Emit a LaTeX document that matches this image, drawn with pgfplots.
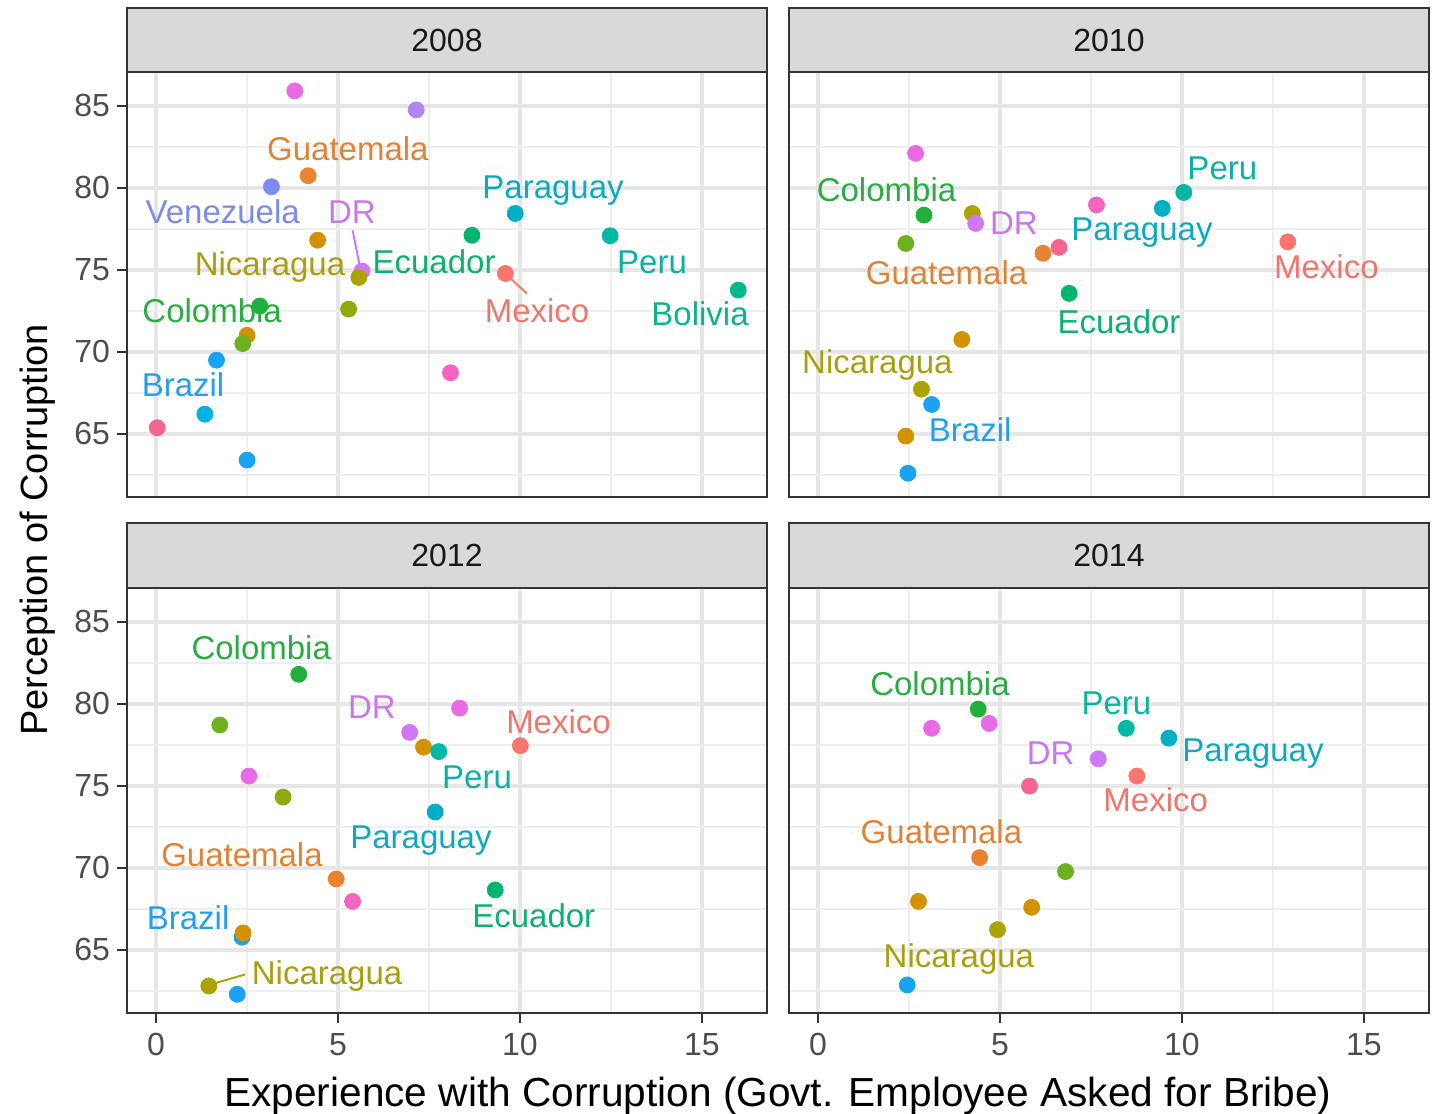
\documentclass[border=0pt]{standalone}
\usepackage{fontspec}
\setmainfont{Liberation Sans}
\usepackage{pgfplots}
\usepackage{pgfplotstable}
\pgfplotsset{compat=1.18}

\definecolor{mex}{HTML}{F8766D}
\definecolor{gua}{HTML}{EA8331}
\definecolor{gold}{HTML}{D39200}
\definecolor{nic}{HTML}{ABA300}
\definecolor{oliv}{HTML}{8EAB0E}
\definecolor{lime}{HTML}{6DB11F}
\definecolor{col}{HTML}{22B03C}
\definecolor{ecu}{HTML}{00B56E}
\definecolor{bol}{HTML}{00BA8C}
\definecolor{peru}{HTML}{00B8A5}
\definecolor{par}{HTML}{00AFC5}
\definecolor{cyanb}{HTML}{00B2E2}
\definecolor{bra}{HTML}{1AA3F5}
\definecolor{ven}{HTML}{7C8CF0}
\definecolor{lav}{HTML}{AE87F5}
\definecolor{dr}{HTML}{CF78F5}
\definecolor{mag}{HTML}{EA6AE6}
\definecolor{rose}{HTML}{F564BE}
\definecolor{pink}{HTML}{F5668F}
\definecolor{frame}{HTML}{333333}
\definecolor{tickcol}{HTML}{4D4D4D}
\definecolor{gridmaj}{HTML}{E6E6E6}
\definecolor{gridmin}{HTML}{EEEEEE}
\definecolor{stripfill}{HTML}{D9D9D9}

% year panels: x = bribe experience, y = perception, c = colour class
\pgfplotstableread{
x y c
3.81 85.90 mag
7.15 84.74 lav
4.18 80.73 gua
3.17 80.06 ven
4.44 76.80 gold
5.66 74.92 dr
5.57 74.53 nic
2.85 72.79 col
5.29 72.60 oliv
2.50 71.00 gold
2.38 70.50 lime
1.66 69.49 bra
1.34 66.20 cyanb
0.03 65.37 pink
2.50 63.40 bra
8.09 68.72 rose
9.87 78.43 par
8.68 77.10 ecu
12.48 77.07 peru
9.60 74.77 mex
16.00 73.76 bol
}\tA
\pgfplotstableread{
x y c
2.68 82.09 mag
2.91 78.33 col
4.24 78.43 nic
4.33 77.82 dr
2.41 76.60 lime
6.18 76.00 gua
6.62 76.36 pink
7.65 78.95 rose
6.90 73.56 ecu
3.95 70.75 gold
2.84 67.72 nic
3.12 66.79 bra
2.41 64.86 gold
2.47 62.60 bra
9.46 78.74 par
10.05 79.71 peru
12.91 76.70 mex
}\tB
\pgfplotstableread{
x y c
3.92 81.79 col
1.75 78.70 lime
6.97 78.25 dr
7.35 77.35 gold
7.77 77.08 peru
2.55 75.59 mag
3.49 74.31 oliv
7.67 73.40 par
4.95 69.32 gua
5.40 67.95 rose
2.36 65.77 bra
2.39 66.03 gold
1.45 62.80 nic
2.23 62.29 bra
8.34 79.73 mag
10.01 77.44 mex
9.32 68.65 ecu
}\tC
\pgfplotstableread{
x y c
4.40 79.67 col
3.12 78.50 mag
4.70 78.80 mag
7.70 76.64 dr
5.81 74.98 pink
4.44 70.62 gua
6.80 69.77 lime
2.76 67.95 gold
5.87 67.59 gold
4.93 66.23 nic
2.45 62.86 bra
8.47 78.50 peru
9.64 77.90 par
8.76 75.59 mex
}\tD

\pgfplotsset{
  panel/.style={
    scale only axis, width=320pt, height=212.5pt,
    xmin=-0.8, xmax=16.79, ymin=61.15, ymax=87.05,
    xtick={0,5,10,15}, ytick={65,70,75,80,85},
    minor xtick={2.5,7.5,12.5}, minor ytick={62.5,67.5,72.5,77.5,82.5},
    grid=both,
    major grid style={line width=2pt, color=gridmaj},
    minor grid style={line width=1pt, color=gridmin},
    axis line style={line width=1.1pt, color=frame},
    tick align=outside, major tick length=5pt, minor tick length=0pt,
    tick style={line width=1.1pt, color=frame},
    xtick pos=left, ytick pos=left,
    ticklabel style={font=\fontsize{16}{16}\selectfont, text=tickcol},
    xticklabel style={yshift=-1.5pt},
    /pgf/number format/assume math mode=true,
  },
  pts/.style={
    scatter, only marks, mark=*, mark size=4pt,
    scatter src=explicit symbolic,
    scatter/classes={
      mex={fill=mex,draw=mex}, gua={fill=gua,draw=gua}, gold={fill=gold,draw=gold},
      nic={fill=nic,draw=nic}, oliv={fill=oliv,draw=oliv}, lime={fill=lime,draw=lime},
      col={fill=col,draw=col}, ecu={fill=ecu,draw=ecu}, bol={fill=bol,draw=bol},
      peru={fill=peru,draw=peru}, par={fill=par,draw=par}, cyanb={fill=cyanb,draw=cyanb},
      bra={fill=bra,draw=bra}, ven={fill=ven,draw=ven}, lav={fill=lav,draw=lav},
      dr={fill=dr,draw=dr}, mag={fill=mag,draw=mag}, rose={fill=rose,draw=rose},
      pink={fill=pink,draw=pink}}
  },
}
\tikzset{lab/.style={anchor=base, inner sep=0pt, font=\fontsize{16.5}{16.5}\selectfont}}

\begin{document}
\begin{tikzpicture}
\path[use as bounding box] (0pt,0pt) rectangle (716pt,-557pt);

% 2008
\begin{axis}[panel, at={(63.5pt,-36pt)}, anchor=north west,
  xticklabels={}, xtick style={draw=none}]
\addplot[pts] table[x=x, y=y, meta=c] {\tA};
\draw[dr, line width=1pt] (axis cs:5.40,77.40) -- (axis cs:5.61,75.10);
\draw[mex, line width=1pt] (axis cs:9.69,74.57) -- (axis cs:10.19,73.55);
\node[lab, text=gua!90!gray] at (axis cs:5.27,81.65) {Guatemala};
\node[lab, text=ven!90!gray] at (axis cs:1.83,77.82) {Venezuela};
\node[lab, text=dr!90!gray] at (axis cs:5.38,77.82) {DR};
\node[lab, text=par!90!gray] at (axis cs:10.91,79.35) {Paraguay};
\node[lab, text=nic!90!gray] at (axis cs:3.13,74.63) {Nicaragua};
\node[lab, text=ecu!90!gray] at (axis cs:7.64,74.77) {Ecuador};
\node[lab, text=peru!90!gray] at (axis cs:13.63,74.77) {Peru};
\node[lab, text=mex!90!gray] at (axis cs:10.47,71.79) {Mexico};
\node[lab, text=col!90!gray] at (axis cs:1.54,71.79) {Colombia};
\node[lab, text=bol!90!gray] at (axis cs:14.95,71.63) {Bolivia};
\node[lab, text=bra!90!gray] at (axis cs:0.74,67.26) {Brazil};
\end{axis}

% 2010
\begin{axis}[panel, at={(394.5pt,-36pt)}, anchor=north west,
  xticklabels={}, xtick style={draw=none}, yticklabels={}, ytick style={draw=none}]
\addplot[pts] table[x=x, y=y, meta=c] {\tB};
\node[lab, text=col!90!gray] at (axis cs:1.88,79.15) {Colombia};
\node[lab, text=dr!90!gray] at (axis cs:5.38,77.12) {DR};
\node[lab, text=par!90!gray] at (axis cs:8.90,76.81) {Paraguay};
\node[lab, text=gua!90!gray] at (axis cs:3.53,74.07) {Guatemala};
\node[lab, text=ecu!90!gray] at (axis cs:8.27,71.12) {Ecuador};
\node[lab, text=nic!90!gray] at (axis cs:1.63,68.68) {Nicaragua};
\node[lab, text=bra!90!gray] at (axis cs:4.18,64.51) {Brazil};
\node[lab, text=peru!90!gray] at (axis cs:11.11,80.47) {Peru};
\node[lab, text=mex!90!gray] at (axis cs:13.97,74.47) {Mexico};
\end{axis}

% 2012
\begin{axis}[panel, at={(63.5pt,-294pt)}, anchor=north west]
\addplot[pts] table[x=x, y=y, meta=c] {\tC};
\draw[nic, line width=1pt] (axis cs:1.48,62.88) -- (axis cs:2.45,63.50);
\node[lab, text=col!90!gray] at (axis cs:2.89,82.70) {Colombia};
\node[lab, text=dr!90!gray] at (axis cs:5.93,79.10) {DR};
\node[lab, text=par!90!gray] at (axis cs:7.28,71.18) {Paraguay};
\node[lab, text=gua!90!gray] at (axis cs:2.36,70.07) {Guatemala};
\node[lab, text=bra!90!gray] at (axis cs:0.88,66.23) {Brazil};
\node[lab, text=nic!90!gray] at (axis cs:4.70,62.90) {Nicaragua};
\node[lab, text=mex!90!gray] at (axis cs:11.06,78.21) {Mexico};
\node[lab, text=peru!90!gray] at (axis cs:8.82,74.82) {Peru};
\node[lab, text=ecu!90!gray] at (axis cs:10.38,66.38) {Ecuador};
\end{axis}

% 2014
\begin{axis}[panel, at={(394.5pt,-294pt)}, anchor=north west,
  yticklabels={}, ytick style={draw=none}]
\addplot[pts] table[x=x, y=y, meta=c] {\tD};
\node[lab, text=col!90!gray] at (axis cs:3.35,80.52) {Colombia};
\node[lab, text=dr!90!gray] at (axis cs:6.39,76.27) {DR};
\node[lab, text=gua!90!gray] at (axis cs:3.39,71.48) {Guatemala};
\node[lab, text=nic!90!gray] at (axis cs:3.87,63.91) {Nicaragua};
\node[lab, text=peru!90!gray] at (axis cs:8.20,79.36) {Peru};
\node[lab, text=par!90!gray] at (axis cs:11.95,76.47) {Paraguay};
\node[lab, text=mex!90!gray] at (axis cs:9.28,73.44) {Mexico};
\end{axis}

% facet strips
\tikzset{strip/.style={fill=stripfill, draw=frame, line width=1.1pt}}
\draw[strip] (63.5pt,-4pt) rectangle (383.5pt,-36pt);
\draw[strip] (394.5pt,-4pt) rectangle (714.5pt,-36pt);
\draw[strip] (63.5pt,-261.5pt) rectangle (383.5pt,-294pt);
\draw[strip] (394.5pt,-261.5pt) rectangle (714.5pt,-294pt);
\tikzset{striptext/.style={font=\fontsize{16}{16}\selectfont, text=black!90}}
\node[striptext] at (223.5pt,-20pt) {2008};
\node[striptext] at (554.5pt,-20pt) {2010};
\node[striptext] at (223.5pt,-277.75pt) {2012};
\node[striptext] at (554.5pt,-277.75pt) {2014};

% axis titles
\node[font=\fontsize{20.3}{20.3}\selectfont, anchor=base] at (389pt,-553pt)
  {Experience with Corruption (Govt. Employee Asked for Bribe)};
\node[font=\fontsize{19}{19}\selectfont, rotate=90] at (19pt,-265pt)
  {Perception of Corruption};
\end{tikzpicture}
\end{document}
